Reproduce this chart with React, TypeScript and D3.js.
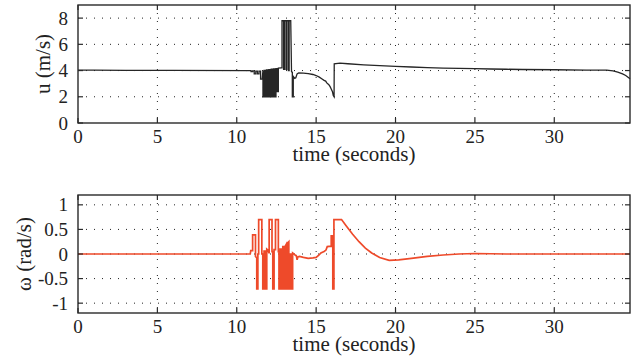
import React from "react";
import * as d3 from "d3";

// ---------- data ----------
const xTicks = [0, 5, 10, 15, 20, 25, 30];
const uTicks = [0, 2, 4, 6, 8];
const wTicks = [-1, -0.5, 0, 0.5, 1];
const wTickLabels = ["-1", "-0.5", "0", "0.5", "1"];

// u (m/s) vs time (s)
const uTime = [
  0, 1, 3, 6, 10.7,
  10.9, 10.9, 11.0, 11.0, 11.1, 11.1, 11.2, 11.2, 11.3, 11.3, 11.4, 11.4, 11.5, 11.5, 11.6,
  11.65, 11.65, 11.72, 11.72, 11.8, 11.8, 11.87, 11.87, 11.95, 11.95, 12.02, 12.02, 12.1, 12.1,
  12.17, 12.17, 12.25, 12.25, 12.32, 12.32, 12.4, 12.4, 12.47, 12.47, 12.55, 12.55, 12.62, 12.62, 12.8,
  12.85, 12.85, 12.95, 12.95, 13.0, 13.0, 13.1, 13.1, 13.15, 13.15, 13.25, 13.25, 13.3, 13.3, 13.4,
  13.45, 13.5, 13.5, 13.56, 13.56, 13.65, 13.72, 13.8, 13.9, 14.2, 14.5, 14.8, 15.0, 15.2, 15.35,
  15.5, 15.6, 15.67, 15.8, 15.88, 15.95, 16.03, 16.08, 16.13, 16.14, 16.5, 17, 18, 19, 20, 21, 22,
  23, 24, 25, 26, 27, 28, 30, 32, 33.3, 33.7, 34.0, 34.3, 34.5, 34.77,
];
const uValue = [
  4.04, 4.03, 4.02, 4.01, 4.0,
  4.0, 3.92, 3.92, 3.97, 3.97, 3.75, 3.75, 3.95, 3.95, 3.75, 3.75, 3.95, 3.95, 3.35, 3.35,
  4.0, 2.0, 2.0, 4.02, 4.02, 2.0, 2.0, 4.05, 4.05, 2.0, 2.0, 4.07, 4.07, 2.0,
  2.0, 4.1, 4.1, 2.0, 2.0, 4.12, 4.12, 2.0, 2.0, 4.15, 4.15, 2.4, 2.4, 4.18, 4.2,
  4.2, 7.8, 7.8, 4.1, 4.1, 7.8, 7.8, 4.1, 4.1, 7.8, 7.8, 4.0, 4.0, 7.8, 7.8,
  3.9, 3.88, 2.0, 2.0, 3.55, 3.4, 3.45, 3.75, 3.82, 3.8, 3.77, 3.7, 3.62, 3.5, 3.38,
  3.25, 3.2, 3.06, 2.92, 2.77, 2.6, 2.38, 2.1, 2.0, 4.52, 4.57, 4.52, 4.44, 4.37, 4.32, 4.27, 4.23,
  4.19, 4.16, 4.14, 4.12, 4.1, 4.08, 4.06, 4.04, 4.03, 3.98, 3.88, 3.75, 3.62, 3.38,
];

// omega (rad/s) vs time (s)
const wTime = [
  0, 10.85, 10.88, 11.0, 11.0, 11.18, 11.18, 11.26, 11.26, 11.33, 11.33, 11.38, 11.38, 11.58, 11.58,
  11.64, 11.64, 11.72, 11.72, 11.8, 11.8, 11.89, 11.89, 11.96, 12.02, 12.04, 12.04, 12.22, 12.22,
  12.27, 12.27, 12.35, 12.35, 12.44, 12.44, 12.62, 12.62, 12.66, 12.66, 12.73, 12.73, 12.82, 12.82,
  12.9, 12.9, 12.97, 12.97, 13.05, 13.05, 13.12, 13.12, 13.2, 13.2, 13.28, 13.28, 13.36, 13.36,
  13.44, 13.44, 13.52, 13.52, 13.6, 13.7, 13.75, 13.8, 13.85, 13.95, 14.2, 14.5, 14.8, 15.0, 15.15,
  15.3, 15.5, 15.62, 15.7, 15.95, 15.95, 16.05, 16.05, 16.12, 16.12, 16.6, 16.9, 17.3, 17.7, 18.1,
  18.5, 19.0, 19.6, 20.2, 21.0, 22.0, 23.0, 24.0, 25.0, 27.0, 34.77,
];
const wValue = [
  0, 0, 0.07, 0.07, 0.39, 0.39, -0.05, -0.08, -0.71, -0.71, 0.0, 0.0, 0.7, 0.7, 0.0,
  0.0, -0.71, -0.71, 0.06, 0.06, -0.71, -0.71, 0.1, 0.08, 0.03, 0.03, 0.7, 0.7, 0.05,
  0.05, -0.71, -0.71, 0.09, 0.09, 0.7, 0.7, 0.05, 0.05, -0.71, -0.71, 0.1, 0.1, -0.71,
  -0.71, 0.15, 0.15, -0.71, -0.71, 0.16, 0.2, -0.71, -0.71, 0.22, 0.25, -0.71, -0.71, 0.0,
  0.0, -0.71, -0.71, 0.02, 0.0, -0.03, -0.03, -0.12, -0.06, -0.05, -0.07, -0.09, -0.08, -0.07, -0.03,
  0.02, 0.05, 0.08, 0.15, 0.16, 0.37, 0.37, -0.71, -0.71, 0.7, 0.7, 0.57, 0.4, 0.25, 0.12,
  0.02, -0.07, -0.13, -0.12, -0.09, -0.05, -0.02, 0.0, 0.01, 0.0, 0.0,
];

// ---------- layout ----------
const W = 644;
const H = 364;
const left = 78;
const right = 630;
const font = "'Liberation Serif', 'Times New Roman', serif";
const fs = 19;
const titleFs = 21;
const axisColor = "#2a2a2a";

type PanelProps = {
  top: number;
  bottom: number;
  yDomain: [number, number];
  yTicks: number[];
  yLabels: string[];
  yTitle: string;
  yTitleX: number;
  xs: number[];
  ys: number[];
  color: string;
  width: number;
};

function Panel(p: PanelProps) {
  const x = d3.scaleLinear().domain([0, 34.77]).range([left, right]);
  const y = d3.scaleLinear().domain(p.yDomain).range([p.bottom, p.top]);
  const line = d3
    .line<number>()
    .x((_, i) => x(p.xs[i]))
    .y((d) => y(d));
  const path = line(p.ys) || "";
  const tl = 5;
  return (
    <g>
      {/* grid */}
      {xTicks.filter((t) => t > 0).map((t) => (
        <line key={"gx" + t} x1={x(t)} x2={x(t)} y1={p.top} y2={p.bottom}
          stroke="#222" strokeWidth={1} strokeDasharray="1 7" />
      ))}
      {p.yTicks.filter((t) => y(t) > p.top + 1 && y(t) < p.bottom - 1).map((t) => (
        <line key={"gy" + t} x1={left} x2={right} y1={y(t)} y2={y(t)}
          stroke="#222" strokeWidth={1} strokeDasharray="1 7" />
      ))}
      {/* data */}
      <path d={path} fill="none" stroke={p.color} strokeWidth={p.width} strokeLinejoin="miter" />
      {/* frame */}
      <rect x={left} y={p.top} width={right - left} height={p.bottom - p.top}
        fill="none" stroke={axisColor} strokeWidth={1.4} />
      {/* ticks */}
      {xTicks.map((t) => (
        <g key={"tx" + t}>
          <line x1={x(t)} x2={x(t)} y1={p.bottom} y2={p.bottom - tl} stroke={axisColor} strokeWidth={1.2} />
          <line x1={x(t)} x2={x(t)} y1={p.top} y2={p.top + tl} stroke={axisColor} strokeWidth={1.2} />
          <text x={x(t)} y={p.bottom + 20} textAnchor="middle" fontFamily={font} fontSize={fs} fill="#222">
            {t}
          </text>
        </g>
      ))}
      {p.yTicks.map((t, i) => (
        <g key={"ty" + t}>
          <line x1={left} x2={left + tl} y1={y(t)} y2={y(t)} stroke={axisColor} strokeWidth={1.2} />
          <line x1={right} x2={right - tl} y1={y(t)} y2={y(t)} stroke={axisColor} strokeWidth={1.2} />
          <text x={left - 10} y={y(t)} dy="0.35em" textAnchor="end" fontFamily={font} fontSize={fs} fill="#222">
            {p.yLabels[i]}
          </text>
        </g>
      ))}
      <text x={(left + right) / 2} y={p.bottom + 38} textAnchor="middle" fontFamily={font} fontSize={titleFs} fill="#222">
        time (seconds)
      </text>
      <text transform={`translate(${p.yTitleX},${(p.top + p.bottom) / 2}) rotate(-90)`}
        textAnchor="middle" fontFamily={font} fontSize={titleFs} fill="#222">
        {p.yTitle}
      </text>
    </g>
  );
}

export default function App() {
  return (
    <svg width={W} height={H} style={{ position: "absolute", left: 0, top: 0, background: "#fff" }}>
      <rect width={W} height={H} fill="#fff" />
      <Panel top={5} bottom={123} yDomain={[0, 9]} yTicks={uTicks} yLabels={uTicks.map(String)}
        yTitle="u (m/s)" yTitleX={50} xs={uTime} ys={uValue} color="#262626" width={1.3} />
      <Panel top={195} bottom={313} yDomain={[-1.2, 1.2]} yTicks={wTicks} yLabels={wTickLabels}
        yTitle="ω (rad/s)" yTitleX={31} xs={wTime} ys={wValue} color="#ee4a2a" width={1.7} />
    </svg>
  );
}
